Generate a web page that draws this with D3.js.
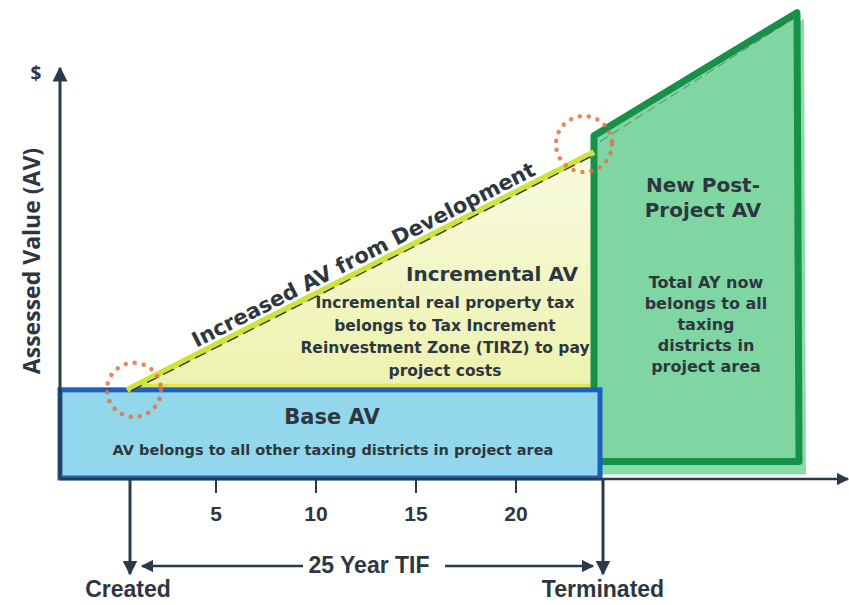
<!DOCTYPE html>
<html>
<head>
<meta charset="utf-8">
<script src="https://cdn.jsdelivr.net/npm/d3@7"></script>
<style>
  body { margin: 0; background: #fff; }
  svg { display: block; }
  .dark { fill: #2e3640; font-weight: bold; }
</style>
</head>
<body>
<div id="chart"></div>
<script>
// years along the TIF timeline, values in % of the top of the value axis
const tickYears = [5, 10, 15, 20];
const tifLength = 25;
const events = [
  { label: "Created", year: 0.7 },
  { label: "Terminated", year: 24.35 }
];
const axisYears = [-2.8, 36.6];
const axisValues = [0, 100];
const baseValue = 21.5;
const growth = [
  { year: 0.55, value: 21.5 },
  { year: 23.9, value: 79.5 }
];
const postProject = [
  { year: 23.9, value: 83.5 },
  { year: 34.05, value: 113.5 },
  { year: 34.15, value: 4 },
  { year: 23.9, value: 4 }
];
const incrementalLines = ["Incremental real property tax", "belongs to Tax Increment",
  "Reinvestment Zone (TIRZ) to pay", "project costs"];
const postLines = ["Total AY now", "belongs to all", "taxing", "districts in", "project area"];

const width = 849, height = 605;
const svg = d3.select("#chart").append("svg")
  .attr("width", width).attr("height", height);

const x = d3.scaleLinear().domain([0, 25]).range([116, 616]);
const y = d3.scaleLinear().domain([0, 100]).range([478, 68]);

const axisColor = "#2b3a4a";
const defs = svg.append("defs");

const grad = defs.append("linearGradient").attr("id", "incr")
  .attr("x1", 0).attr("y1", 0).attr("x2", 0).attr("y2", 1);
grad.append("stop").attr("offset", "0%").attr("stop-color", "#f9fbe0");
grad.append("stop").attr("offset", "100%").attr("stop-color", "#edf2ae");

// incremental triangle
const g0 = growth[0], g1 = growth[1];
svg.append("path")
  .attr("d", d3.line()([
    [x(g0.year), y(g0.value)],
    [x(g1.year), y(g1.value)],
    [x(g1.year), y(baseValue)]
  ]) + "Z")
  .attr("fill", "url(#incr)");

// yellow strip on top of base
svg.append("line")
  .attr("x1", x(g0.year) + 10).attr("x2", x(g1.year))
  .attr("y1", y(baseValue) - 4).attr("y2", y(baseValue) - 4)
  .attr("stroke", "#dfe64c").attr("stroke-width", 4);

// post project polygon (fill slightly offset like the print)
const ppPts = postProject.map(d => [x(d.year), y(d.value)]);
svg.append("path")
  .attr("d", d3.line()(ppPts.map((p, i) => [p[0] + (i === 0 || i === 3 ? 2 : 7), p[1] + (i >= 2 ? 13 : 6)])) + "Z")
  .attr("fill", "#8adcab");
svg.append("path")
  .attr("d", d3.line()(ppPts) + "Z")
  .attr("fill", "#7fd6a3")
  .attr("stroke", "#17904a")
  .attr("stroke-width", 7)
  .attr("stroke-linejoin", "round");
// dashes along inner top edge
svg.append("line")
  .attr("x1", ppPts[0][0] + 6).attr("y1", ppPts[0][1] + 6)
  .attr("x2", ppPts[1][0] - 4).attr("y2", ppPts[1][1] + 6)
  .attr("stroke", "#3b4a3e").attr("stroke-width", 1)
  .attr("stroke-dasharray", "9 5").attr("opacity", 0.6);

// base AV box
svg.append("rect")
  .attr("x", x(axisYears[0])).attr("y", y(baseValue))
  .attr("width", x(events[1].year) - 3 - x(axisYears[0]))
  .attr("height", y(0) - y(baseValue))
  .attr("fill", "#93d7ec")
  .attr("stroke", "#1b60bd")
  .attr("stroke-width", 5);

// growth line
svg.append("line")
  .attr("x1", x(g0.year)).attr("y1", y(g0.value))
  .attr("x2", x(g1.year)).attr("y2", y(g1.value))
  .attr("stroke", "#cde23c").attr("stroke-width", 6);
svg.append("line")
  .attr("x1", x(g0.year) + 4).attr("y1", y(g0.value) + 1)
  .attr("x2", x(g1.year)).attr("y2", y(g1.value) + 3)
  .attr("stroke", "#2d332a").attr("stroke-width", 1.3)
  .attr("stroke-dasharray", "12 6");

// dotted circles at start and end of growth
[[x(g0.year) + 7, y(g0.value), 27], [x(g1.year) - 10, y(g1.value) - 8, 28]].forEach(c => {
  svg.append("circle")
    .attr("cx", c[0]).attr("cy", c[1]).attr("r", c[2])
    .attr("fill", "none").attr("stroke", "#e2733f")
    .attr("stroke-width", 4.5).attr("stroke-linecap", "round")
    .attr("stroke-dasharray", "0.1 9").attr("opacity", 0.85);
});

// arrow marker
defs.append("marker").attr("id", "arr")
  .attr("viewBox", "0 0 10 10").attr("refX", 9).attr("refY", 5)
  .attr("markerWidth", 5).attr("markerHeight", 5)
  .attr("markerUnits", "strokeWidth")
  .attr("orient", "auto")
  .append("path").attr("d", "M0,0L10,5L0,10Z").attr("fill", axisColor);

// axes
const x0 = x(axisYears[0]);
svg.append("line")
  .attr("x1", x0).attr("y1", y(0))
  .attr("x2", x0).attr("y2", y(axisValues[1]))
  .attr("stroke", axisColor).attr("stroke-width", 3)
  .attr("marker-end", "url(#arr)");
svg.append("line")
  .attr("x1", x0).attr("y1", y(0) + 1)
  .attr("x2", x(axisYears[1])).attr("y2", y(0) + 1)
  .attr("stroke", axisColor).attr("stroke-width", 2.5)
  .attr("marker-end", "url(#arr)");

// ticks
svg.selectAll(".tick").data(tickYears).enter().append("line")
  .attr("x1", d => x(d)).attr("x2", d => x(d))
  .attr("y1", y(0) + 2).attr("y2", y(0) + 15)
  .attr("stroke", axisColor).attr("stroke-width", 2);
svg.selectAll(".tlab").data(tickYears).enter().append("text")
  .attr("class", "dark")
  .attr("x", d => x(d)).attr("y", y(0) + 43)
  .attr("text-anchor", "middle")
  .style("font-family", "'Liberation Sans', sans-serif")
  .style("font-size", "21px")
  .text(d => d);

// created / terminated arrows
svg.selectAll(".ev").data(events).enter().append("line")
  .attr("x1", d => x(d.year)).attr("x2", d => x(d.year))
  .attr("y1", y(0)).attr("y2", y(0) + 96)
  .attr("stroke", axisColor).attr("stroke-width", 3)
  .attr("marker-end", "url(#arr)");
svg.selectAll(".evlab").data(events).enter().append("text")
  .attr("class", "dark")
  .attr("x", d => x(d.year) + (d.year < 5 ? -2 : 0))
  .attr("y", y(0) + 119)
  .attr("text-anchor", "middle")
  .style("font-family", "'Liberation Sans', sans-serif")
  .style("font-size", "23px")
  .text(d => d.label);

// 25 year span
const spanY = y(0) + 88;
svg.append("line")
  .attr("x1", x(5) + 87).attr("y1", spanY)
  .attr("x2", x(events[0].year) + 12).attr("y2", spanY)
  .attr("stroke", axisColor).attr("stroke-width", 2.5)
  .attr("marker-end", "url(#arr)");
svg.append("line")
  .attr("x1", x(16.45)).attr("y1", spanY)
  .attr("x2", x(events[1].year) - 10).attr("y2", spanY)
  .attr("stroke", axisColor).attr("stroke-width", 2.5)
  .attr("marker-end", "url(#arr)");
svg.append("text").attr("class", "dark")
  .attr("x", x(12.65)).attr("y", spanY + 7)
  .attr("text-anchor", "middle")
  .style("font-family", "'Liberation Sans', sans-serif")
  .style("font-size", "23px")
  .text(tifLength + " Year TIF");

// axis labels
svg.append("text").attr("class", "dark")
  .attr("x", 36).attr("y", y(axisValues[1]) + 12)
  .attr("text-anchor", "middle")
  .style("font-family", "'Open Sans', sans-serif")
  .style("font-size", "19px")
  .text("$");
svg.append("text").attr("class", "dark")
  .attr("transform", "translate(40," + 261 + ") rotate(-90)")
  .attr("text-anchor", "middle")
  .style("font-family", "'Open Sans', sans-serif")
  .style("font-size", "23px")
  .text("Assessed Value (AV)");

// text inside shapes
const body = "'DejaVu Sans', Verdana, sans-serif";

const ang = Math.atan2(y(g1.value) - y(g0.value), x(g1.year) - x(g0.year));
const along = 272;
const tx = x(g0.year) + along * Math.cos(ang) + 6 * Math.sin(ang);
const ty = y(g0.value) + along * Math.sin(ang) - 6 * Math.cos(ang);
svg.append("text").attr("class", "dark")
  .attr("transform", `translate(${tx},${ty}) rotate(${ang * 180 / Math.PI})`)
  .attr("text-anchor", "middle")
  .style("font-family", body).style("font-size", "21px")
  .text("Increased AV from Development");

svg.append("text").attr("class", "dark")
  .attr("x", 492).attr("y", 281)
  .attr("text-anchor", "middle")
  .style("font-family", body).style("font-size", "20px")
  .text("Incremental AV");
svg.selectAll(".incl").data(incrementalLines).enter().append("text")
  .attr("class", "dark")
  .attr("x", 445).attr("y", (d, i) => 308 + i * 22.7)
  .attr("text-anchor", "middle")
  .style("font-family", body).style("font-size", "15.5px")
  .text(d => d);

svg.append("text").attr("class", "dark")
  .attr("x", 332).attr("y", 424)
  .attr("text-anchor", "middle")
  .style("font-family", body).style("font-size", "21px")
  .text("Base AV");
svg.append("text").attr("class", "dark")
  .attr("x", 333).attr("y", 455)
  .attr("text-anchor", "middle")
  .style("font-family", body).style("font-size", "14.5px")
  .text("AV belongs to all other taxing districts in project area");

svg.selectAll(".pph").data(["New Post-", "Project AV"]).enter().append("text")
  .attr("class", "dark")
  .attr("x", 703).attr("y", (d, i) => 192 + i * 25)
  .attr("text-anchor", "middle")
  .style("font-family", body).style("font-size", "20px")
  .text(d => d);
svg.selectAll(".ppl").data(postLines).enter().append("text")
  .attr("class", "dark")
  .attr("x", 706).attr("y", (d, i) => 288 + i * 21)
  .attr("text-anchor", "middle")
  .style("font-family", body).style("font-size", "16px")
  .text(d => d);
</script>
</body>
</html>
